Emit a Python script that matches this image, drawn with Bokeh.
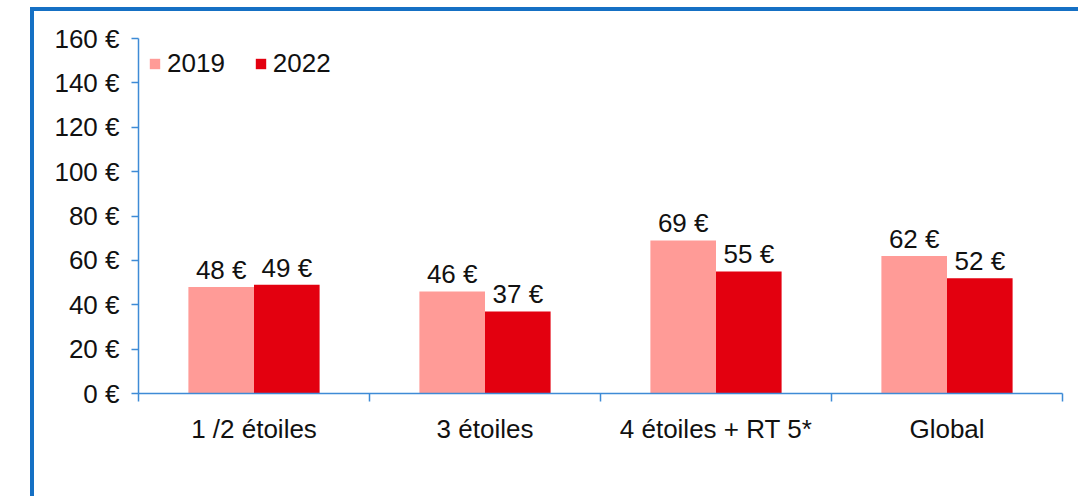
from bokeh.plotting import figure
from bokeh.models import (FactorRange, Range1d, LinearAxis, CategoricalAxis, FixedTicker,
                          ColumnDataSource, Legend, LegendItem)
from bokeh.transform import dodge
from bokeh.core.properties import value
from bokeh.embed import file_html
from bokeh.resources import INLINE

categories = ["1 /2 étoiles", "3 étoiles", "4 étoiles + RT 5*", "Global"]
series_names = ["2019", "2022"]
values_2019 = [48, 46, 69, 62]
values_2022 = [49, 37, 55, 52]
y_ticks = [0, 20, 40, 60, 80, 100, 120, 140, 160]

FONT = "Liberation Sans"
C2019 = "#FF9B97"
C2022 = "#E3000F"
AXIS_C = "#3E8BD6"
BORDER_C = "#1570C4"

src = ColumnDataSource(dict(
    cat=categories,
    v2019=values_2019,
    v2022=values_2022,
    l2019=[f"{v} €" for v in values_2019],
    l2022=[f"{v} €" for v in values_2022],
))

p = figure(width=1048, height=489, x_range=FactorRange(*categories, range_padding=0),
           y_range=Range1d(0, 160), output_backend="svg", toolbar_location=None,
           x_axis_location=None, min_border_left=104, min_border_top=27,
           min_border_right=20, min_border_bottom=107)
p.styles = {"border-left": f"4px solid {BORDER_C}", "border-top": f"4px solid {BORDER_C}",
            "margin-left": "30px", "margin-top": "7px"}
p.outline_line_color = None
p.xgrid.visible = False
p.ygrid.visible = False
p.background_fill_color = "white"
p.border_fill_color = "white"

bw = 0.284
r1 = p.vbar(x=dodge("cat", -bw / 2, range=p.x_range), top="v2019", width=bw, source=src,
            fill_color=C2019, line_color=None)
r2 = p.vbar(x=dodge("cat", bw / 2, range=p.x_range), top="v2022", width=bw, source=src,
            fill_color=C2022, line_color=None)

for col, lab, off in (("v2019", "l2019", -bw / 2), ("v2022", "l2022", bw / 2)):
    p.text(x=dodge("cat", off, range=p.x_range), y=col, text=lab, source=src,
           text_align="center", text_baseline="alphabetic", y_offset=-17,
           text_font=value(FONT), text_font_size="26px", text_color="#111111")

# y axis
ya = p.yaxis[0]
ya.ticker = FixedTicker(ticks=y_ticks)
ya.major_label_overrides = {t: f"{t} €" for t in y_ticks}
ya.axis_line_color = AXIS_C
ya.axis_line_width = 1.5
ya.major_tick_line_color = AXIS_C
ya.major_tick_line_width = 1.5
ya.major_tick_out = 7
ya.major_tick_in = 0
ya.minor_tick_line_color = None
ya.major_label_text_font = FONT
ya.major_label_text_font_size = "26px"
ya.major_label_text_color = "#111111"
ya.major_label_standoff = 12

# x axis: separator ticks at category boundaries + category labels
sep_axis = LinearAxis(ticker=FixedTicker(ticks=list(range(len(categories) + 1))),
                      axis_line_color=AXIS_C, axis_line_width=1.5,
                      major_tick_line_color=AXIS_C, major_tick_line_width=1.5,
                      major_tick_out=8, major_tick_in=0, minor_tick_line_color=None,
                      major_label_text_font_size="1px", major_label_text_color=None,
                      major_label_standoff=0)
p.add_layout(sep_axis, "below")
cat_axis = CategoricalAxis(axis_line_color=None, major_tick_line_color=None,
                           major_tick_out=0, major_tick_in=0,
                           major_label_text_font=FONT, major_label_text_font_size="26px",
                           major_label_text_color="#111111", major_label_standoff=12)
p.add_layout(cat_axis, "below")

legend = Legend(items=[LegendItem(label=series_names[0], renderers=[r1]),
                       LegendItem(label=series_names[1], renderers=[r2])],
                orientation="horizontal", location="top_left", padding=0, margin=10,
                spacing=29, glyph_width=13, glyph_height=13, label_standoff=6,
                label_text_font=FONT, label_text_font_size="26px", label_text_color="#111111",
                border_line_color=None, background_fill_alpha=0)
p.add_layout(legend, "center")

open("out.html", "w").write(file_html(p, INLINE))
